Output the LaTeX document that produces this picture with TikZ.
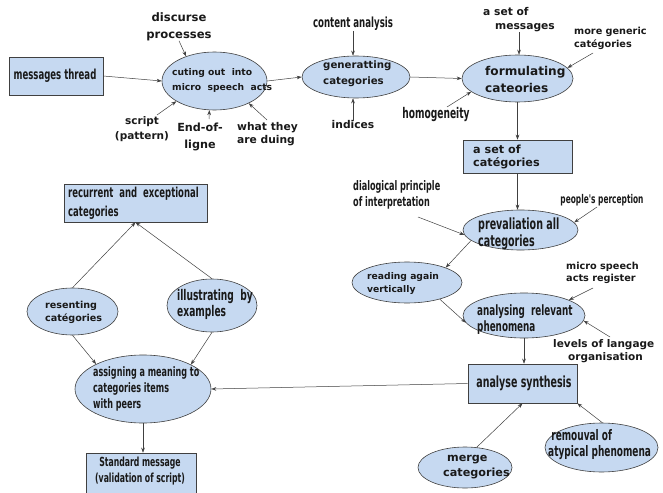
\documentclass[tikz,border=0pt]{standalone}
\usepackage{fontspec}
\setmainfont{DejaVu Sans}
\newfontfamily\cf[FakeStretch=1.0]{DejaVu Sans Bold}
\newfontfamily\nf[FakeStretch=0.62]{DejaVu Sans Bold}
\usetikzlibrary{shapes.geometric,arrows.meta}
\definecolor{lb}{RGB}{198,217,241}
\newcommand\fsz[2]{\fontsize{#1}{#2}\selectfont}
\begin{document}
\begin{tikzpicture}[x=1pt,y=-1pt,
  ell/.style={ellipse,draw=black!75,fill=lb,line width=0.6pt,inner sep=0},
  bx/.style={rectangle,draw=black!75,fill=lb,line width=0.6pt,inner sep=0},
  lbl/.style={inner sep=0,align=left,anchor=west,text=black!90},
  lblc/.style={inner sep=0,align=center,text=black!90},
  arr/.style={-{Stealth[length=5pt,width=3.6pt]},draw=black!75,line width=0.5pt}]
\useasboundingbox[fill=white] (0,0) rectangle (663,492);

% ---------- shapes ----------
\node[bx,minimum width=94,minimum height=38] (mt) at (56,76) {};
\node[ell,minimum width=105,minimum height=58] (cut) at (214.5,81) {};
\node[ell,minimum width=108,minimum height=42] (gen) at (356,77) {};
\node[ell,minimum width=111,minimum height=47] (form) at (517.5,78.5) {};
\node[bx,minimum width=109,minimum height=33] (setcat) at (517.5,156.5) {};
\node[ell,minimum width=115,minimum height=40] (prev) at (520.5,230) {};
\node[ell,minimum width=110,minimum height=41] (read) at (407,282.5) {};
\node[ell,minimum width=122,minimum height=45] (anal) at (524,315.5) {};
\node[bx,minimum width=109,minimum height=39] (synth) at (522.5,383.5) {};
\node[ell,minimum width=94,minimum height=41] (merge) at (465,467.5) {};
\node[ell,minimum width=113,minimum height=49] (remv) at (601.5,447.5) {};
\node[ell,minimum width=136,minimum height=68] (assign) at (143,389) {};
\node[bx,minimum width=110,minimum height=42] (std) at (141,474) {};
\node[bx,minimum width=143,minimum height=38] (rec) at (135.5,203) {};
\node[ell,minimum width=91,minimum height=47] (res) at (72.5,311.5) {};
\node[ell,minimum width=90,minimum height=53] (ill) at (212,305.5) {};

% ---------- texts inside shapes ----------
\node[lblc,font=\nf\fsz{13.8}{14}] (tmt) at (55,76) {messages thread};
\node[lbl,font=\cf\fsz{9.2}{15}] (tcut) at (172,80.5) {cuting out\ \ into\\micro\ \ speech\ \ acts};
\node[lbl,font=\cf\fsz{10.2}{16}] (tgen) at (323,74) {generatting\\categories};
\node[lbl,font=\cf\fsz{12.1}{17}] (tform) at (485,79.5) {formulating\\cateories};
\node[lbl,font=\cf\fsz{11.2}{13}] (tsetcat) at (473,156.5) {a set of\\catégories};
\node[lbl,font=\nf\fsz{15.4}{17}] (tprev) at (478,233.5) {prevaliation all\\categories};
\node[lbl,font=\cf\fsz{9.2}{13}] (tread) at (367,283.5) {reading again\\vertically};
\node[lbl,font=\nf\fsz{14.2}{16}] (tanal) at (477,320) {analysing\ \ relevant\\phenomena};
\node[lblc,font=\nf\fsz{15.3}{16}] (tsynth) at (524,383) {analyse synthesis};
\node[lbl,font=\cf\fsz{11.2}{15}] (tmerge) at (443,467.5) {\ merge\\categories};
\node[lbl,font=\nf\fsz{14.5}{16}] (tremv) at (548,445) {\ remouval of\\atypical phenomena};
\node[lbl,font=\nf\fsz{13}{16}] (tassign) at (93,389) {assigning a meaning to\\categories items\\with peers};
\node[lblc,font=\nf\fsz{12.5}{16}] (tstd) at (140,471) {Standard message\\(validation of script)};
\node[lbl,font=\nf\fsz{13.7}{19}] (trec) at (68,203.5) {recurrent\ \ and\ \ exceptional\\categories};
\node[lbl,font=\cf\fsz{9.6}{13}] (tres) at (45,312.5) {resenting\\catégories};
\node[lbl,font=\nf\fsz{14.7}{16}] (till) at (177,304) {illustrating\ \ by\\examples};

% ---------- free labels ----------
\node[lblc,font=\cf\fsz{11.6}{17}] (disc) at (179,26.5) {discurse\\processes};
\node[lblc,font=\cf\fsz{10.5}{15}] (script) at (142,129.5) {script\\(pattern)};
\node[lblc,font=\cf\fsz{11.2}{17}] (endof) at (200,136.5) {End-of-\\ligne};
\node[lbl,font=\cf\fsz{10.7}{12.5}] (what) at (237,134) {what they\\are duing};
\node[lblc,font=\nf\fsz{13.9}{14}] (content) at (353,24) {content analysis};
\node[lblc,font=\cf\fsz{10.7}{13}] (indices) at (353,125) {indices};
\node[lbl,font=\cf\fsz{10.7}{14}] (setmsg) at (483,20) {a set of\\\hspace*{12pt}messages};
\node[lbl,font=\cf\fsz{9.7}{13}] (generic) at (574,38.5) {more generic\\catégories};
\node[lblc,font=\nf\fsz{14.7}{15}] (homog) at (436,115) {homogeneity};
\node[lbl,font=\nf\fsz{13.1}{16}] (dialog) at (353,195) {dialogical principle\\of interpretation};
\node[lblc,font=\nf\fsz{12}{14}] (people) at (602,200) {people's perception};
\node[lbl,font=\cf\fsz{9.7}{12}] (microsp) at (566,272.5) {micro speech\\acts register};
\node[lbl,font=\cf\fsz{10.5}{12.5}] (levels) at (553,351) {levels of langage\\\hspace*{15pt}organisation};

% ---------- free arrow ends ----------
\coordinate (cScript) at (157,115);
\coordinate (cEnd) at (209,119);
\coordinate (cWhat) at (267,120);
\coordinate (cGeneric) at (593,53);
\coordinate (cHomog) at (447,107);
\coordinate (cDialog) at (418,217);
\coordinate (cPeople) at (597,207);
\coordinate (cMicro) at (593,288);
\coordinate (cLevels) at (610,337);

% ---------- connectors ----------
\draw[arr] (mt.east) -- (cut.west);
\draw[arr] (disc.south) -- (cut.139);
\draw[arr] (cScript) -- (cut.208);
\draw[arr] (cEnd) -- (cut.260);
\draw[arr] (cWhat) -- (cut.327);
\draw[arr] (cut.east) -- (gen.west);
\draw[arr] (content.south) -- (content.south |- gen.north);
\draw[arr] (indices.north) -- (indices.north |- gen.south);
\draw[arr] (gen.east) -- (form.west);
\draw[arr] (setmsg.south) -- (setmsg.south |- form.north);
\draw[arr] (cGeneric) -- (form.12);
\draw[arr] (cHomog) -- (form.196);
\draw[arr] (form.south) -- (setcat.north);
\draw[arr] (setcat.south) -- (setcat.south |- prev.north);
\draw[arr] (cDialog) -- (prev.185);
\draw[arr] (cPeople) -- (prev.8);
\draw[arr] (prev.192) -- (read.21);
\draw[arr] (read.333) -- (anal.187);
\draw[arr] (cMicro) -- (anal.19);
\draw[arr] (cLevels) -- (anal.355);
\draw[arr] (anal.south) -- (anal.south |- synth.north);
\draw[arr] (merge.60) -- (synth.south);
\draw[arr] (remv.88) -- (synth.south east);
\draw[arr] (synth.west) -- (assign.east);
\draw[arr] (res.north) -- (rec.south);
\draw[arr] (ill.north) -- (rec.south);
\draw[arr] (res.south) -- (assign.152);
\draw[arr] (ill.south) -- (assign.27);
\draw[arr] (assign.south) -- (assign.south |- std.north);
\end{tikzpicture}
\end{document}
